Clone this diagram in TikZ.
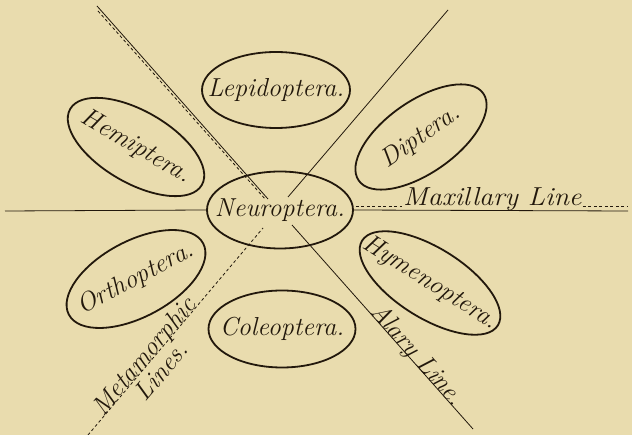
\documentclass[tikz,border=0pt]{standalone}
\usepackage{fontspec}
\usetikzlibrary{shapes.geometric,calc}
\definecolor{paper}{RGB}{233,220,174}
\definecolor{ink}{RGB}{34,24,12}
\newcommand{\ordername}[1]{\makebox[0pt]{#1}}
\tikzset{
  oval/.style={ellipse, draw=ink, line width=1.8pt, inner sep=0pt, text=ink,
    font=\fontsize{26}{30}\selectfont\itshape},
  divln/.style={draw=ink, line width=0.8pt},
  metaln/.style={draw=ink, line width=0.8pt, dash pattern=on 3pt off 2.5pt},
  lbl/.style={font=\fontsize{26}{30}\selectfont\itshape, text=ink, inner sep=1pt},
}
\begin{document}
\begin{tikzpicture}[x=1pt,y=-1pt]
    % Paper
    \fill[paper] (0,0) rectangle (632,435);
    \useasboundingbox (0,0) rectangle (632,435);
    % Orders
    \node[oval, minimum width=146, minimum height=77] (neuro) at (280,210) {\ordername{Neuroptera.}};
    \node[oval, minimum width=148, minimum height=76] (lepido) at (276,90) {\ordername{Lepidoptera.}};
    \node[oval, minimum width=147, minimum height=77] (coleo) at (282,329) {\ordername{Coleoptera.}};
    \node[oval, minimum width=152, minimum height=72, rotate=-30] (hemi) at (136,147) {\ordername{Hemiptera.}};
    \node[oval, minimum width=152, minimum height=72, rotate=35] (dipt) at (421,137) {\ordername{Diptera.}};
    \node[oval, minimum width=152, minimum height=76, rotate=28] (ortho) at (136,279) {\ordername{Orthoptera.}};
    \node[oval, minimum width=160, minimum height=70, rotate=-32] (hymeno) at (430,283) {\ordername{Hymenoptera.}};
    % Line ends
    \coordinate (westEnd) at (5,211);
    \coordinate (eastEnd) at (628,211);
    \coordinate (alaryTop) at (97,6);
    \coordinate (alaryIn) at (268,199);
    \coordinate (alaryOut) at (292,225);
    \coordinate (alaryEnd) at (473,429);
    \coordinate (metaTop) at (448,10);
    \coordinate (metaIn) at (288,197);
    \coordinate (metaOut) at (263,228);
    \coordinate (metaEnd) at (88,435);
    % Maxillary line
    \draw[divln] (westEnd) -- (neuro.west);
    \draw[divln] (neuro.east) -- (eastEnd);
    \node[lbl, anchor=base west] (maxi) at (402,206) {\scalebox{1.08}[1]{Maxillary Line}};
    \draw[metaln] ($(neuro.east)+(2,-4)$) -- (maxi.base west);
    \draw[metaln] (maxi.base east) -- (eastEnd |- maxi.base);
    % Alary line
    \draw[divln] (alaryTop) -- (alaryIn);
    \draw[metaln] (98,11) -- (266,200);
    \draw[divln] (alaryOut) -- (alaryEnd)
      node[lbl, pos=0.66, sloped, anchor=base] {Alary Line.};
    % Metamorphic lines
    \draw[divln] (metaTop) -- (metaIn);
    \draw[metaln] (metaEnd) -- (metaOut)
      node[lbl, pos=0.355, sloped, anchor=base] {Metamorphic}
      node[lbl, pos=0.355, sloped, below=4pt] {Lines.};
\end{tikzpicture}
\end{document}
